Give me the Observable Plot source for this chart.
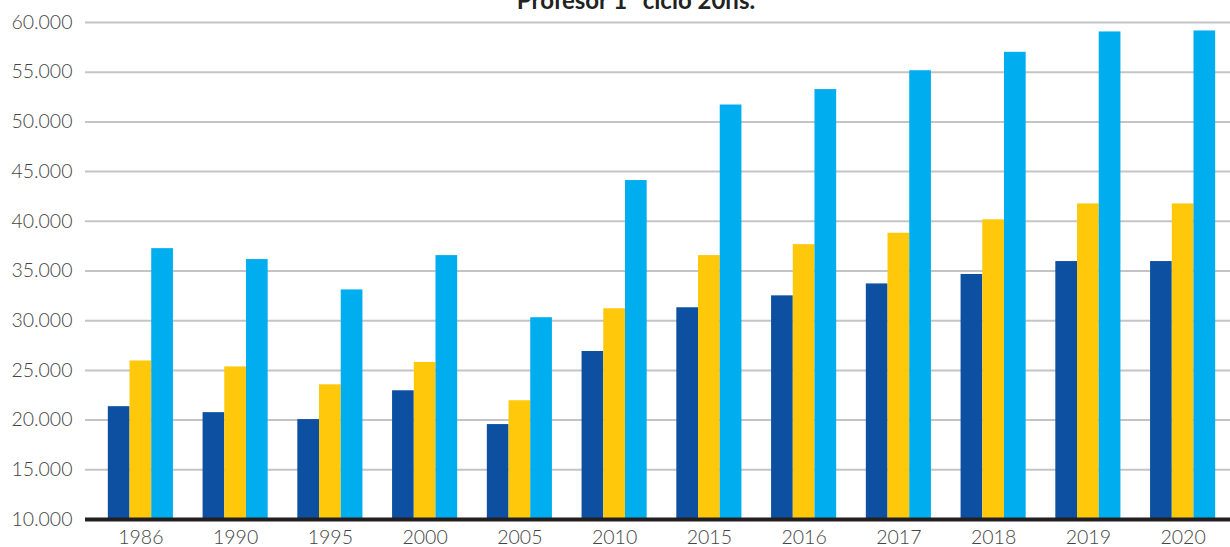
<!DOCTYPE html>
<html>
<head>
<meta charset="utf-8">
<script src="https://cdn.jsdelivr.net/npm/d3@7"></script>
<script src="https://cdn.jsdelivr.net/npm/@observablehq/plot@0.6"></script>
<style>
  html, body { margin: 0; padding: 0; background: #fff; overflow: hidden; }
  #wrap { position: relative; width: 1230px; height: 547px; }
  #title { position: absolute; top: -15px; left: 0; width: 1272px; text-align: center;
           font-family: Lato, sans-serif; font-weight: 700; font-size: 24px; line-height: 29px; color: #222; }
</style>
</head>
<body>
<div id="wrap">
  <div id="title">Profesor 1º ciclo 20hs.</div>
  <div id="chart"></div>
</div>
<script>
const years = ["1986","1990","1995","2000","2005","2010","2015","2016","2017","2018","2019","2020"];
const serieA = [21350, 20750, 20050, 22950, 19550, 26900, 31300, 32500, 33700, 34650, 35950, 35950];
const serieB = [25950, 25350, 23550, 25800, 21950, 31200, 36550, 37650, 38800, 40150, 41750, 41750];
const serieC = [37250, 36150, 33100, 36550, 30300, 44100, 51700, 53250, 55150, 57000, 59050, 59150];
const yTicks = [10000, 15000, 20000, 25000, 30000, 35000, 40000, 45000, 50000, 55000, 60000];
const colors = ["#0d4fa0", "#ffc80a", "#00aeef"];

const rows = (vals) => years.map((y, i) => ({year: y, value: vals[i]}));
const barW = 21.7;
const bw = (1230 - 93) / years.length;
const inset = (bw - barW) / 2;
const fmt = d => d3.format(",")(d).replace(/,/g, ".");

const chart = Plot.plot({
  width: 1230,
  height: 547,
  marginTop: 22,
  marginBottom: 28,
  marginLeft: 85,
  marginRight: 0,
  style: {fontFamily: "Lato, sans-serif", fontSize: "19.5px", color: "#444", background: "#fff"},
  x: {domain: years, padding: 0, round: false, insetLeft: 8, label: null, tickSize: 0, tickPadding: 11},
  y: {domain: [10000, 60000], ticks: yTicks, tickFormat: fmt, label: null, tickSize: 0, tickPadding: 13},
  marks: [
    Plot.ruleY(yTicks.slice(1), {stroke: "#c4c4c8", strokeWidth: 2}),
    ...[serieA, serieB, serieC].map((s, k) =>
      Plot.barY(rows(s), {x: "year", y1: 10000, y2: "value", fill: colors[k],
        insetLeft: inset, insetRight: inset, dx: (k - 1) * barW})
    ),
    Plot.ruleY([10000], {stroke: "#231f20", strokeWidth: 4})
  ]
});
chart.querySelectorAll("text").forEach(t => { t.style.fontWeight = "300"; });
document.getElementById("chart").appendChild(chart);
</script>
</body>
</html>
